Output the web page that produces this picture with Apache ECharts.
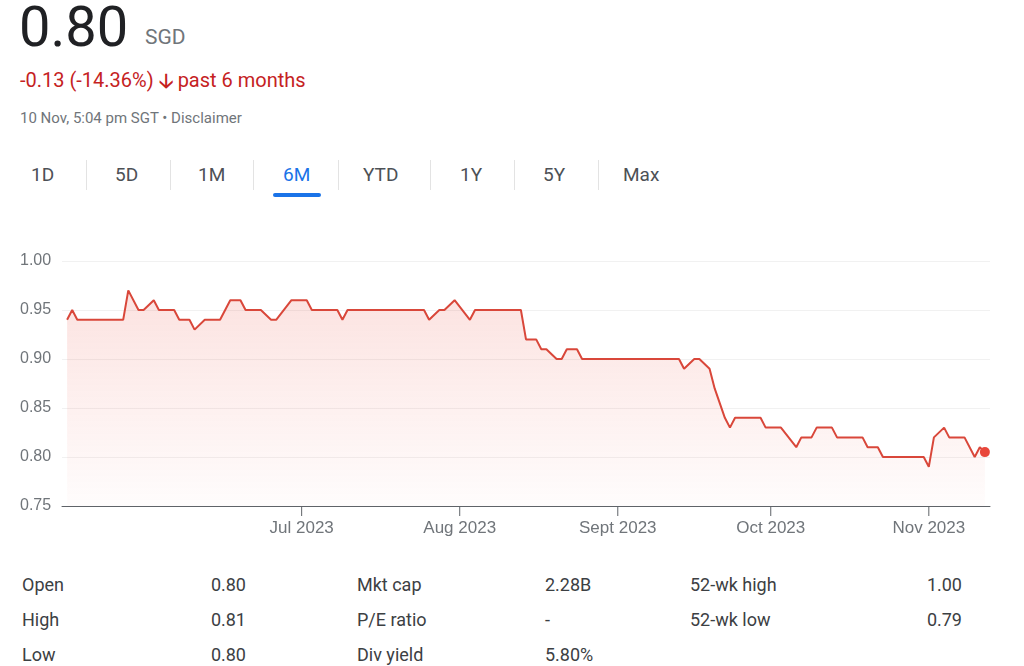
<!DOCTYPE html>
<html>
<head>
<meta charset="utf-8">
<script src="https://cdn.jsdelivr.net/npm/echarts@6/dist/echarts.min.js"></script>
<style>
  body { margin: 0; width: 1024px; height: 666px; overflow: hidden; background: #fff; font-family: Roboto, Arial, sans-serif; color: #202124; position: relative; }
  .abs { position: absolute; white-space: nowrap; }
  .tab { position: absolute; top: 163px; font-size: 19px; color: #4d5156; }
  .sep { position: absolute; top: 160px; width: 1px; height: 30px; background: #e3e3e3; }
  .st { position: absolute; font-size: 18px; color: #3c4043; }
</style>
</head>
<body>
<div class="abs" style="left:19px;top:-6px;font-size:56px;color:#202124;">0.80</div>
<div class="abs" style="left:145px;top:25px;font-size:21px;color:#70757a;">SGD</div>
<div class="abs" style="left:20px;top:66px;font-size:20px;color:#c5221f;">-0.13 (-14.36%) <b>&#129123;</b> past 6 months</div>
<div class="abs" style="left:20px;top:109px;font-size:15px;color:#70757a;">10 Nov, 5:04 pm SGT • Disclaimer</div>

<div class="tab" style="left:31px;">1D</div>
<div class="sep" style="left:86px;"></div>
<div class="tab" style="left:115px;">5D</div>
<div class="sep" style="left:170px;"></div>
<div class="tab" style="left:198px;">1M</div>
<div class="sep" style="left:253px;"></div>
<div class="tab" style="left:283px;color:#1a73e8;">6M</div>
<div class="abs" style="left:273px;top:193px;width:48px;height:4px;border-radius:2px;background:#1a73e8;"></div>
<div class="sep" style="left:338px;"></div>
<div class="tab" style="left:363px;">YTD</div>
<div class="sep" style="left:430px;"></div>
<div class="tab" style="left:460px;">1Y</div>
<div class="sep" style="left:514px;"></div>
<div class="tab" style="left:543px;">5Y</div>
<div class="sep" style="left:598px;"></div>
<div class="tab" style="left:623px;">Max</div>

<div id="chart" style="position:absolute;left:0;top:240px;width:1024px;height:300px;"></div>

<div class="st" style="left:22px;top:574px;">Open</div>
<div class="st" style="left:22px;top:609px;">High</div>
<div class="st" style="left:22px;top:644px;">Low</div>
<div class="st" style="left:190px;width:56px;text-align:right;top:574px;">0.80</div>
<div class="st" style="left:190px;width:56px;text-align:right;top:609px;">0.81</div>
<div class="st" style="left:190px;width:56px;text-align:right;top:644px;">0.80</div>
<div class="st" style="left:357px;top:574px;">Mkt cap</div>
<div class="st" style="left:357px;top:609px;">P/E ratio</div>
<div class="st" style="left:357px;top:644px;">Div yield</div>
<div class="st" style="left:545px;top:574px;">2.28B</div>
<div class="st" style="left:545px;top:609px;">-</div>
<div class="st" style="left:545px;top:644px;">5.80%</div>
<div class="st" style="left:690px;top:574px;">52-wk high</div>
<div class="st" style="left:690px;top:609px;">52-wk low</div>
<div class="st" style="left:900px;width:62px;text-align:right;top:574px;">1.00</div>
<div class="st" style="left:900px;width:62px;text-align:right;top:609px;">0.79</div>

<script>
const dates = ['2023-05-16','2023-05-17','2023-05-18','2023-05-27','2023-05-28','2023-05-30','2023-05-31','2023-06-02','2023-06-03','2023-06-06',
  '2023-06-07','2023-06-09','2023-06-10','2023-06-12','2023-06-15','2023-06-17','2023-06-19','2023-06-20','2023-06-23','2023-06-25',
  '2023-06-26','2023-06-29','2023-07-02','2023-07-03','2023-07-08','2023-07-09','2023-07-10','2023-07-25','2023-07-26','2023-07-28',
  '2023-07-29','2023-07-31','2023-08-03','2023-08-04','2023-08-13','2023-08-14','2023-08-16','2023-08-17','2023-08-18','2023-08-20',
  '2023-08-21','2023-08-22','2023-08-24','2023-08-25','2023-09-13','2023-09-14','2023-09-16','2023-09-17','2023-09-19','2023-09-20',
  '2023-09-22','2023-09-23','2023-09-24','2023-09-29','2023-09-30','2023-10-03','2023-10-06','2023-10-07','2023-10-09','2023-10-10',
  '2023-10-13','2023-10-14','2023-10-19','2023-10-20','2023-10-22','2023-10-23','2023-10-31','2023-11-01','2023-11-02','2023-11-04',
  '2023-11-05','2023-11-08','2023-11-10','2023-11-11','2023-11-12'];
const prices = [0.94,0.95,0.94,0.94,0.97,0.95,0.95,0.96,0.95,0.95,
  0.94,0.94,0.93,0.94,0.94,0.96,0.96,0.95,0.95,0.94,
  0.94,0.96,0.96,0.95,0.95,0.94,0.95,0.95,0.94,0.95,
  0.95,0.96,0.94,0.95,0.95,0.92,0.92,0.91,0.91,0.90,
  0.90,0.91,0.91,0.90,0.90,0.89,0.90,0.90,0.89,0.87,
  0.84,0.83,0.84,0.84,0.83,0.83,0.81,0.82,0.82,0.83,
  0.83,0.82,0.82,0.81,0.81,0.80,0.80,0.79,0.82,0.83,
  0.82,0.82,0.80,0.81,0.805];
const monthTicks = ['2023-07-01','2023-08-01','2023-09-01','2023-10-01','2023-11-01'];
const monthLabels = ['Jul 2023','Aug 2023','Sept 2023','Oct 2023','Nov 2023'];

const chart = echarts.init(document.getElementById('chart'));
const tickTimes = monthTicks.map(d => +new Date(d + 'T00:00:00'));
const data = dates.map((d, i) => [+new Date(d + 'T00:00:00'), prices[i]]);

chart.setOption({
  animation: false,
  grid: { left: 62, right: 34, top: 21, bottom: 34 },
  xAxis: {
    type: 'time',
    min: +new Date('2023-05-15T00:00:00'),
    max: +new Date('2023-11-13T00:00:00'),
    axisLine: { lineStyle: { color: '#5f6368', width: 1 } },
    axisTick: { show: false },
    splitLine: { show: false },
    axisLabel: { show: false }
  },
  yAxis: {
    type: 'value',
    min: 0.75, max: 1.0, interval: 0.05,
    axisLine: { show: false },
    axisTick: { show: false },
    axisLabel: {
      formatter: v => v.toFixed(2), color: '#70757a', fontSize: 16,
      align: 'left', margin: 42
    },
    splitLine: { lineStyle: { color: '#f1f1f1' } }
  },
  series: [{
    type: 'line',
    data: data,
    symbol: 'none',
    lineStyle: { color: '#d9473a', width: 2 },
    areaStyle: {
      color: new echarts.graphic.LinearGradient(0, 0, 0, 1, [
        { offset: 0, color: 'rgba(234,67,53,0.22)' },
        { offset: 1, color: 'rgba(234,67,53,0.02)' }
      ])
    },
    markPoint: {
      symbol: 'circle', symbolSize: 10, silent: true,
      itemStyle: { color: '#e8473b' }, label: { show: false },
      data: [{ coord: data[data.length - 1] }]
    }
  }, {
    type: 'line',
    data: tickTimes.map((t, i) => ({ value: [t, 0.75], name: monthLabels[i] })),
    lineStyle: { opacity: 0 },
    symbol: 'rect', symbolSize: [1, 10], symbolOffset: [0, 5],
    itemStyle: { color: '#5f6368' },
    label: {
      show: true, position: 'bottom', distance: 4, formatter: p => p.name,
      color: '#70757a', fontSize: 17
    },
    silent: true
  }]
});
</script>
</body>
</html>
